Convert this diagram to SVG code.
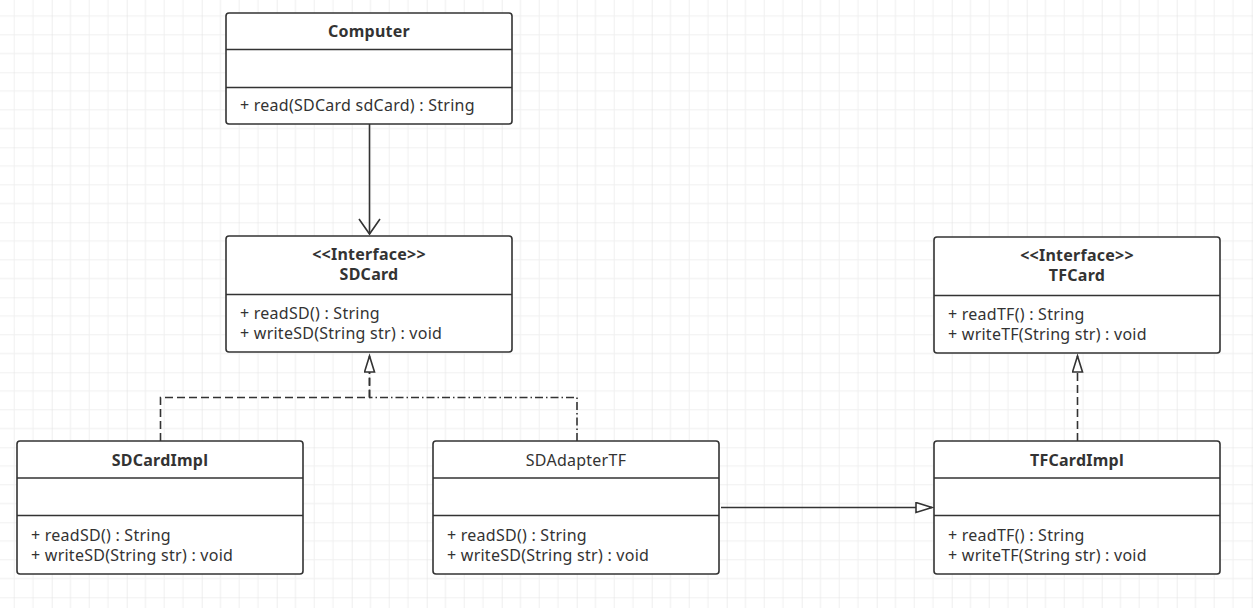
<svg xmlns="http://www.w3.org/2000/svg" width="1253" height="608" viewBox="0 0 1253 608">
  <defs>
    <pattern id="grid" patternUnits="userSpaceOnUse" x="51.7" y="72.3" width="75" height="75">
      <rect width="75" height="75" fill="#ffffff"/>
      <path d="M18.75 0V75M37.5 0V75M56.25 0V75M0 18.75H75M0 37.5H75M0 56.25H75" stroke="#f0f0f0" stroke-width="1" fill="none"/>
      <path d="M0 0V75M0 0H75" stroke="#e3e3e3" stroke-width="1.2" fill="none"/>
    </pattern>
    <marker id="openV" markerUnits="userSpaceOnUse" markerWidth="24" markerHeight="24" refX="16" refY="11" orient="auto">
      <path d="M1 0.5 L16 11 L1 21.5" fill="none" stroke="#333333" stroke-width="1.6"/>
    </marker>
    <marker id="hollowTri" markerUnits="userSpaceOnUse" markerWidth="20" markerHeight="14" refX="17" refY="6" orient="auto">
      <path d="M1 1 L17 6 L1 11 Z" fill="#ffffff" stroke="#333333" stroke-width="1.6" stroke-linejoin="miter"/>
    </marker>
  </defs>
  <style>
    .box { fill: #ffffff; stroke: #333333; stroke-width: 1.6; }
    .sep { stroke: #333333; stroke-width: 1.6; fill: none; }
    .t { font-family: "Noto Sans", "Open Sans", sans-serif; font-size: 16px; letter-spacing: 0.25px; fill: #333333; }
    .title { font-weight: bold; text-anchor: middle; }
    .ctitle { text-anchor: middle; }
    .conn { fill: none; stroke: #333333; stroke-width: 1.6; }
    .dash { stroke-dasharray: 8 4; }
    .dashdot { stroke-dasharray: 8 3 1.5 3; }
  </style>
  <rect width="1253" height="608" fill="url(#grid)"/>

  <g id="connectors">
    <path class="conn" d="M369.5 124 V234" marker-end="url(#openV)"/>
    <path class="conn dash" d="M160.5 441 V397.5 H369.5 V372"/>
    <path class="conn dashdot" d="M577 441 V397.5 H369.5"/>
    <path class="conn" d="M369.5 397.5 V356" marker-end="url(#hollowTri)" stroke-dasharray="8 4"/>
    <path class="conn dash" d="M1077.5 441 V356" marker-end="url(#hollowTri)"/>
    <path class="conn" d="M721 507.5 H932" marker-end="url(#hollowTri)"/>
  </g>

  <g id="computer">
    <rect class="box" x="226" y="13" width="286" height="111" rx="3"/>
    <path class="sep" d="M226 49.5 H512 M226 87.5 H512"/>
    <text class="t title" x="369" y="37">Computer</text>
    <text class="t" x="240" y="111">+ read(SDCard sdCard) : String</text>
  </g>

  <g id="sdcard">
    <rect class="box" x="226" y="236" width="286" height="116" rx="3"/>
    <path class="sep" d="M226 294.5 H512"/>
    <text class="t title" x="369" y="260">&lt;&lt;Interface&gt;&gt;</text>
    <text class="t title" x="369" y="280">SDCard</text>
    <text class="t" x="240" y="319">+ readSD() : String</text>
    <text class="t" x="240" y="339">+ writeSD(String str) : void</text>
  </g>

  <g id="tfcard">
    <rect class="box" x="934" y="237" width="286" height="116" rx="3"/>
    <path class="sep" d="M934 295.5 H1220"/>
    <text class="t title" x="1077" y="261">&lt;&lt;Interface&gt;&gt;</text>
    <text class="t title" x="1077" y="281">TFCard</text>
    <text class="t" x="948" y="320">+ readTF() : String</text>
    <text class="t" x="948" y="340">+ writeTF(String str) : void</text>
  </g>

  <g id="sdcardimpl">
    <rect class="box" x="17" y="441" width="286" height="133" rx="3"/>
    <path class="sep" d="M17 478 H303 M17 515.5 H303"/>
    <text class="t title" x="160" y="466">SDCardImpl</text>
    <text class="t" x="31" y="541">+ readSD() : String</text>
    <text class="t" x="31" y="561">+ writeSD(String str) : void</text>
  </g>

  <g id="sdadaptertf">
    <rect class="box" x="433" y="441" width="286" height="133" rx="3"/>
    <path class="sep" d="M433 478 H719 M433 515.5 H719"/>
    <text class="t ctitle" x="576" y="466">SDAdapterTF</text>
    <text class="t" x="447" y="541">+ readSD() : String</text>
    <text class="t" x="447" y="561">+ writeSD(String str) : void</text>
  </g>

  <g id="tfcardimpl">
    <rect class="box" x="934" y="441" width="286" height="133" rx="3"/>
    <path class="sep" d="M934 478 H1220 M934 515.5 H1220"/>
    <text class="t title" x="1077" y="466">TFCardImpl</text>
    <text class="t" x="948" y="541">+ readTF() : String</text>
    <text class="t" x="948" y="561">+ writeTF(String str) : void</text>
  </g>
</svg>
